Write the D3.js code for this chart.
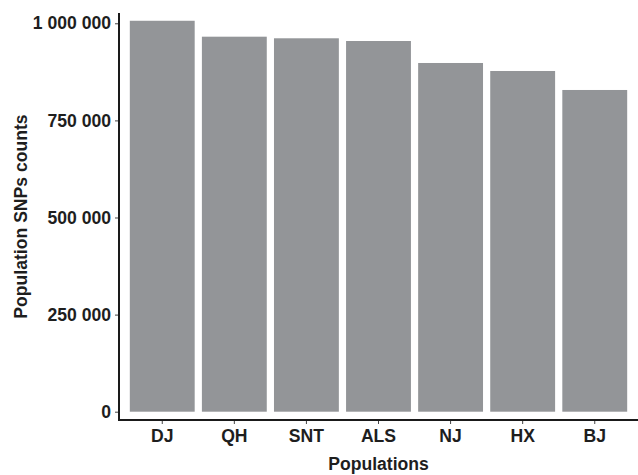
<!DOCTYPE html>
<html>
<head>
<meta charset="utf-8">
<script src="https://cdn.jsdelivr.net/npm/d3@7"></script>
<style>
  html, body { margin: 0; padding: 0; background: #fff; }
  svg { display: block; }
  text { font-family: "Liberation Sans", Arial, sans-serif; font-weight: bold; fill: #1e1e1e; }
</style>
</head>
<body>
<svg id="chart" width="638" height="475"></svg>
<script>
const categories = ["DJ", "QH", "SNT", "ALS", "NJ", "HX", "BJ"];
const values = [1006500, 965500, 961400, 954400, 897800, 877200, 828300];
const yTicks = [0, 250000, 500000, 750000, 1000000];
const yTickLabels = ["0", "250 000", "500 000", "750 000", "1 000 000"];
const xTitle = "Populations";
const yTitle = "Population SNPs counts";

const svg = d3.select("#chart");
const mLeft = 119, mRight = 638, mTop = 13, mBottom = 420;
const fs = 17.6;

const x = d3.scaleBand()
  .domain(categories)
  .range([mLeft, mRight])
  .paddingInner(0.1)
  .paddingOuter(0.15);

const y = d3.scaleLinear()
  .domain([-21370, 1026500])
  .range([mBottom, mTop]);

// bars
svg.append("g").selectAll("rect")
  .data(categories.map((c, i) => ({ c, v: values[i] })))
  .join("rect")
  .attr("x", d => x(d.c))
  .attr("width", x.bandwidth())
  .attr("y", d => y(d.v))
  .attr("height", d => y(0) - y(d.v))
  .attr("fill", "#939598");

// y axis
const yAxis = svg.append("g")
  .attr("transform", `translate(${mLeft},0)`)
  .call(d3.axisLeft(y).tickValues(yTicks).tickFormat((d, i) => yTickLabels[i]).tickSize(4).tickPadding(4));
yAxis.select(".domain").remove();
yAxis.selectAll(".tick line").attr("stroke", "#444").attr("stroke-width", 1);
yAxis.selectAll(".tick text").attr("font-size", fs).style("font-family", "Liberation Sans, Arial, sans-serif").style("font-weight", "bold").attr("fill", "#1e1e1e");

// x axis
const xAxis = svg.append("g")
  .attr("transform", `translate(0,${mBottom})`)
  .call(d3.axisBottom(x).tickSize(4).tickPadding(6));
xAxis.select(".domain").remove();
xAxis.selectAll(".tick line").attr("stroke", "#444").attr("stroke-width", 1);
xAxis.selectAll(".tick text").attr("font-size", fs).style("font-family", "Liberation Sans, Arial, sans-serif").style("font-weight", "bold").attr("fill", "#1e1e1e");

// axis lines
svg.append("line")
  .attr("x1", mLeft).attr("x2", mLeft)
  .attr("y1", mTop).attr("y2", mBottom + 1)
  .attr("stroke", "#1a1a1a").attr("stroke-width", 2);
svg.append("line")
  .attr("x1", mLeft - 1).attr("x2", mRight)
  .attr("y1", mBottom).attr("y2", mBottom)
  .attr("stroke", "#1a1a1a").attr("stroke-width", 2);

// titles
svg.append("text")
  .attr("x", (mLeft + mRight) / 2)
  .attr("y", 470)
  .attr("text-anchor", "middle")
  .attr("font-size", fs)
  .text(xTitle);

svg.append("text")
  .attr("transform", `translate(27,${(mTop + mBottom) / 2}) rotate(-90)`)
  .attr("text-anchor", "middle")
  .attr("font-size", fs)
  .text(yTitle);
</script>
</body>
</html>
